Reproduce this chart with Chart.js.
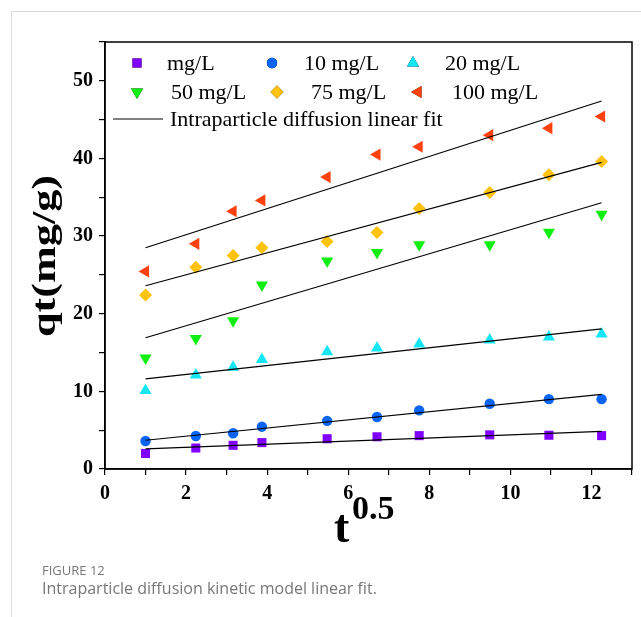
<!DOCTYPE html>
<html>
<head>
<meta charset="utf-8">
<script src="https://cdn.jsdelivr.net/npm/chart.js@4.4.1/dist/chart.umd.min.js"></script>
<style>
  html, body { margin: 0; padding: 0; background: #fff; }
  #wrap { position: relative; width: 641px; height: 617px; overflow: hidden; }
  #card { position: absolute; left: 11px; top: 11px; width: 700px; height: 700px;
          border-top: 1px solid #dcdcdc; border-left: 1px solid #dcdcdc; }
  canvas { position: absolute; left: 0; top: 0; }
  .cap1 { position: absolute; left: 42px; top: 561px; font: 13px "Open Sans", sans-serif; color: #777; }
  .cap2 { position: absolute; left: 42px; top: 577px; font: 16px "Open Sans", sans-serif; color: #777; }
</style>
</head>
<body>
<div id="wrap">
  <div id="card"></div>
  <canvas id="c" width="641" height="617"></canvas>
  <div class="cap1">FIGURE 12</div>
  <div class="cap2">Intraparticle diffusion kinetic model linear fit.</div>
</div>
<script>
// sqrt(t) values
const xValues = [1, 2.24, 3.16, 3.87, 5.48, 6.71, 7.75, 9.49, 10.95, 12.25];

const seriesNames = ["mg/L", "10 mg/L", "20 mg/L", "50 mg/L", "75 mg/L", "100 mg/L"];
const q0 = [2.0, 2.7, 3.05, 3.4, 3.9, 4.15, 4.3, 4.4, 4.35, 4.3];
const q10 = [3.6, 4.25, 4.6, 5.45, 6.2, 6.7, 7.55, 8.4, 9.0, 9.0];
const q20 = [10.1, 12.1, 13.1, 14.1, 15.1, 15.6, 16.1, 16.6, 17.0, 17.4];
const q50 = [14.3, 16.8, 19.1, 23.7, 26.8, 27.9, 28.9, 28.9, 30.5, 32.8];
const q75 = [22.4, 26.0, 27.5, 28.5, 29.3, 30.45, 33.55, 35.6, 37.9, 39.6];
const q100 = [25.45, 29.0, 33.2, 34.6, 37.6, 40.5, 41.5, 43.0, 43.9, 45.4];

// linear fit lines, read at x = 1 and x = 12.25
const fitX = [1, 12.25];
const fitStart = [2.6, 3.7, 11.6, 16.9, 23.6, 28.5];
const fitEnd = [4.85, 9.6, 18.05, 34.3, 39.5, 47.4];

const xTicks = [0, 2, 4, 6, 8, 10, 12];
const yTicks = [0, 10, 20, 30, 40, 50];

const colors = ["#7f00ff", "#0a64f5", "#14e6f5", "#10f010", "#ffc20e", "#ff400f"];
const styles = ["rect", "circle", "triangle", "triangle", "rectRot", "triangle"];
const rotations = [0, 0, 0, 180, 0, 270];
const radii = [6.4, 5.2, 7, 7, 6.5, 7];

const allSeries = [q0, q10, q20, q50, q75, q100];
const serif = "'Liberation Serif', 'Times New Roman', serif";

const datasets = [];
allSeries.forEach((vals, i) => {
  datasets.push({
    label: seriesNames[i],
    data: vals.map((v, k) => ({ x: xValues[k], y: v })),
    showLine: false,
    pointStyle: styles[i],
    rotation: rotations[i],
    pointRadius: radii[i],
    pointBackgroundColor: colors[i],
    pointBorderColor: colors[i],
    pointBorderWidth: 0,
    order: 1
  });
});
fitStart.forEach((s, i) => {
  datasets.push({
    label: "fit",
    data: [{ x: fitX[0], y: s }, { x: fitX[1], y: fitEnd[i] }],
    showLine: true,
    borderColor: "#000",
    borderWidth: 1.2,
    pointRadius: 0,
    order: 0
  });
});

const decor = {
  id: "decor",
  afterDraw: chart => {
    const ctx = chart.ctx;
    const a = chart.chartArea;
    ctx.save();
    // frame
    ctx.strokeStyle = "#000";
    ctx.lineWidth = 1.5;
    ctx.strokeRect(a.left, a.top, a.right - a.left, a.bottom - a.top);

    // legend
    const rows = [63, 92, 119];
    const items = [
      [0, 137, 167], [1, 272, 304], [2, 413, 445],
      [3, 137, 171], [4, 277, 311], [5, 418, 452]
    ];
    ctx.font = "22px " + serif;
    ctx.fillStyle = "#000";
    ctx.textBaseline = "middle";
    ctx.textAlign = "left";
    items.forEach((it, n) => {
      const i = it[0];
      const y = rows[n < 3 ? 0 : 1];
      Chart.helpers.drawPoint(ctx, {
        pointStyle: styles[i], rotation: rotations[i], radius: radii[i], borderWidth: 0
      }, it[1], y);
      ctx.fillStyle = colors[i];
      ctx.fill();
      ctx.fillStyle = "#000";
      ctx.fillText(seriesNames[i], it[2], y + 1);
    });
    ctx.beginPath();
    ctx.moveTo(113, rows[2]);
    ctx.lineTo(163, rows[2]);
    ctx.lineWidth = 1.2;
    ctx.stroke();
    ctx.fillText("Intraparticle diffusion linear fit", 170, rows[2] + 1);

    // y title, drawn a bit stretched along its length like the original
    ctx.save();
    ctx.translate(46, 256);
    ctx.rotate(-Math.PI / 2);
    ctx.scale(1.3, 1);
    ctx.font = "bold 34px " + serif;
    ctx.textAlign = "center";
    ctx.textBaseline = "middle";
    ctx.fillText("qt(mg/g)", 0, 0);
    ctx.restore();

    // x title t^0.5
    ctx.textAlign = "left";
    ctx.textBaseline = "alphabetic";
    ctx.font = "bold 46px " + serif;
    ctx.fillText("t", 334, 542);
    ctx.font = "bold 34px " + serif;
    ctx.fillText("0.5", 352, 519);
    ctx.restore();
  }
};

new Chart(document.getElementById("c"), {
  type: "scatter",
  data: { datasets },
  plugins: [decor],
  options: {
    responsive: false,
    animation: false,
    layout: { padding: { top: 42, right: 9, left: 0, bottom: 0 } },
    plugins: { legend: { display: false }, tooltip: { enabled: false } },
    scales: {
      x: {
        type: "linear",
        min: 0,
        max: 13,
        afterFit: s => { s.height = 148; },
        afterBuildTicks: s => {
          s.ticks = [];
          for (let v = 0; v <= 13; v++) s.ticks.push({ value: v });
        },
        ticks: {
          callback: v => (xTicks.includes(v) ? v : ""),
          color: "#000",
          font: { family: serif, size: 20, weight: "bold" },
          padding: 7,
          maxRotation: 0,
          autoSkip: false
        },
        grid: { drawOnChartArea: false, drawTicks: true, tickLength: 6, color: "#000", lineWidth: 1.2 },
        border: { display: true, color: "#000", width: 1.5 }
      },
      y: {
        type: "linear",
        min: 0,
        max: 55,
        afterFit: s => { s.width = 105; },
        afterBuildTicks: s => {
          s.ticks = [];
          for (let v = 0; v <= 55; v += 5) s.ticks.push({ value: v });
        },
        ticks: {
          callback: v => (yTicks.includes(v) ? v : ""),
          color: "#000",
          font: { family: serif, size: 20, weight: "bold" },
          padding: 6,
          autoSkip: false
        },
        grid: { drawOnChartArea: false, drawTicks: true, tickLength: 6, color: "#000", lineWidth: 1.2 },
        border: { display: true, color: "#000", width: 1.5 }
      }
    }
  }
});
</script>
</body>
</html>
